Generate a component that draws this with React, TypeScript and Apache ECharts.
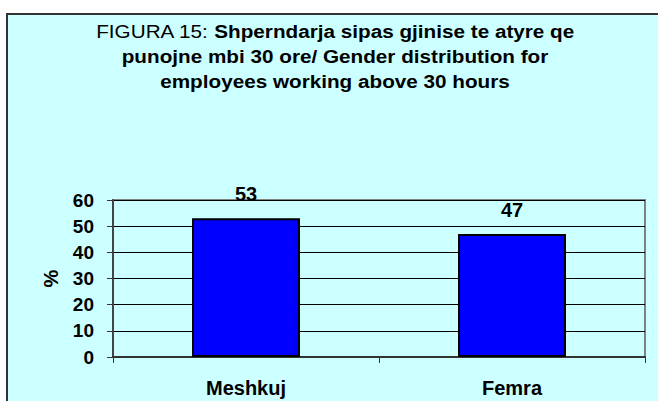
import React, { useEffect, useRef } from "react";
import * as echarts from "echarts";

const categories = ["Meshkuj", "Femra"];
const values = [53, 47];
const yTicks = { min: 0, max: 60, interval: 10 };
const titlePrefix = "FIGURA 15: ";
const titleLines = [
  "Shperndarja sipas gjinise te atyre qe",
  "punojne mbi 30 ore/ Gender distribution for",
  "employees working above 30 hours",
];
const yName = "%";

const FONT = 'Arial, "Liberation Sans", sans-serif';

export default function App() {
  const ref = useRef<HTMLDivElement>(null);
  useEffect(() => {
    if (!ref.current) return;
    const chart = echarts.init(ref.current, null, { renderer: "svg" });
    const titleX = 335;
    const titleYs = [31, 56, 81];
    const titleEls: any[] = titleLines.map((line, i) => ({
      type: "text",
      x: titleX,
      y: titleYs[i],
      scaleX: 1.09,
      style: {
        text: i === 0 ? `{n|${titlePrefix}}{b|${line}}` : `{b|${line}}`,
        align: "center",
        verticalAlign: "middle",
        fill: "#000",
        rich: {
          n: { fontFamily: FONT, fontSize: 19, fontWeight: "normal", fill: "#000" },
          b: { fontFamily: FONT, fontSize: 19, fontWeight: "bold", fill: "#000" },
        },
      },
    }));
    chart.setOption({
      animation: false,
      backgroundColor: "#CCFFFF",
      textStyle: { fontFamily: FONT },
      graphic: [
        { type: "rect", shape: { x: 0, y: 0, width: 658, height: 13 }, style: { fill: "#fff" } },
        { type: "rect", shape: { x: 0, y: 0, width: 6, height: 401 }, style: { fill: "#fff" } },
        { type: "line", shape: { x1: 6, y1: 14, x2: 658, y2: 14 }, style: { stroke: "#333", lineWidth: 2 } },
        { type: "line", shape: { x1: 7, y1: 13, x2: 7, y2: 401 }, style: { stroke: "#333", lineWidth: 2 } },
        ...titleEls,
      ],
      grid: {
        left: 113,
        right: 13,
        top: 200,
        bottom: 44,
        show: true,
        borderColor: "#808080",
        borderWidth: 2,
        backgroundColor: "transparent",
      },
      xAxis: {
        type: "category",
        data: categories,
        boundaryGap: true,
        axisLine: { show: true, lineStyle: { color: "#333", width: 2 } },
        axisTick: { show: true, inside: false, length: 6, alignWithLabel: false, lineStyle: { color: "#333" } },
        axisLabel: { fontFamily: FONT, fontSize: 20, fontWeight: "bold", color: "#000", margin: 21 },
        splitLine: { show: false },
      },
      yAxis: {
        type: "value",
        min: yTicks.min,
        max: yTicks.max,
        interval: yTicks.interval,
        name: yName,
        nameLocation: "middle",
        nameRotate: 90,
        nameGap: 52,
        nameTextStyle: { fontFamily: FONT, fontSize: 20, fontWeight: "bold", color: "#000" },
        axisLine: { show: true, lineStyle: { color: "#444", width: 2 } },
        axisTick: { show: true, inside: false, length: 6, lineStyle: { color: "#333" } },
        axisLabel: { fontFamily: FONT, fontSize: 19, fontWeight: "bold", color: "#000", margin: 19 },
        splitLine: { show: true, lineStyle: { color: "#000", width: 1 } },
      },
      series: [
        {
          type: "bar",
          data: values,
          barWidth: 108,
          itemStyle: { color: "#0000FF", borderColor: "#000", borderWidth: 2 },
          label: {
            show: true,
            position: "top",
            distance: 14,
            fontFamily: FONT,
            fontSize: 20,
            fontWeight: "bold",
            color: "#000",
          },
        },
      ],
    });
    return () => chart.dispose();
  }, []);
  return (
    <div
      ref={ref}
      style={{ position: "fixed", left: 0, top: 0, width: 658, height: 401 }}
    />
  );
}
